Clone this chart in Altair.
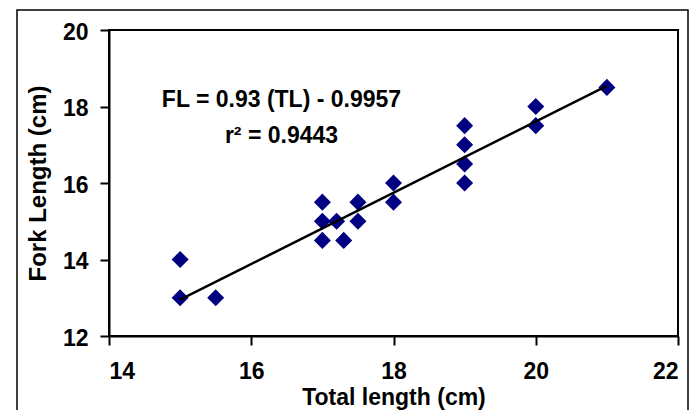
import altair as alt
import pandas as pd

# Data
total_length = [15, 15, 15.5, 17, 17, 17, 17.2, 17.3, 17.5, 17.5, 18, 18, 19, 19, 19, 19, 20, 20, 21]
fork_length = [14, 13, 13, 15.5, 15, 14.5, 15, 14.5, 15.5, 15, 16, 15.5, 17.5, 17, 16.5, 16, 18, 17.5, 18.5]

fit_x = [15, 21]
fit_y = [12.95, 18.54]

ann_text = ["FL = 0.93 (TL) - 0.9957", "r\u00b2 = 0.9443"]
ann_x = [16.425, 16.425]
ann_y = [18.0, 17.04]

x_ticks = [14, 16, 18, 20, 22]
y_ticks = [12, 14, 16, 18, 20]

pts = pd.DataFrame({"TL": total_length, "FL": fork_length})
fit = pd.DataFrame({"TL": fit_x, "FL": fit_y})
ann = pd.DataFrame({"TL": ann_x, "FL": ann_y, "t": ann_text})

FONT = "Liberation Sans"

xs = alt.Scale(domain=[14, 22], nice=False, zero=False)
ys = alt.Scale(domain=[12, 20], nice=False, zero=False)

x_axis = alt.Axis(
    values=x_ticks, format="d", title="Total length (cm)", grid=False,
    tickSize=9, labelPadding=15,
    titleBaseline="alphabetic", titleY=68, titleFontSize=23,
)
y_axis = alt.Axis(
    values=y_ticks, format="d", title="Fork Length (cm)", grid=False,
    tickSize=9, labelPadding=12, labelOffset=2,
    titleBaseline="alphabetic", titleX=-64, titleY=153, titleAlign="center",
    titleFontSize=24,
)

frame = alt.Chart(pd.DataFrame({"a": [0]})).mark_rect(
    fillOpacity=0, stroke="black", strokeWidth=1.5
).encode(
    x=alt.value(-92), x2=alt.value(579), y=alt.value(-20), y2=alt.value(420)
)

points = alt.Chart(pts).mark_point(
    shape="diamond", filled=True, size=290, color="#000080", opacity=1
).encode(
    x=alt.X("TL:Q", scale=xs, axis=x_axis),
    y=alt.Y("FL:Q", scale=ys, axis=y_axis),
)

line = alt.Chart(fit).mark_line(color="black", strokeWidth=2.5).encode(
    x=alt.X("TL:Q", scale=xs),
    y=alt.Y("FL:Q", scale=ys),
)

text = alt.Chart(ann).mark_text(
    font=FONT, fontSize=23, fontWeight="bold", color="black",
    align="center", baseline="alphabetic"
).encode(
    x=alt.X("TL:Q", scale=xs),
    y=alt.Y("FL:Q", scale=ys),
    text="t:N",
)

chart = alt.layer(frame, points, line, text).properties(
    width=569, height=306,
    autosize=alt.AutoSizeParams(type="none"),
    padding={"left": 101, "top": 22, "right": 12, "bottom": 74},
    background="white",
).configure_view(
    stroke="black", strokeWidth=2
).configure_axis(
    domainColor="black", domainWidth=2, tickColor="black", tickWidth=2,
    labelFont=FONT, labelFontSize=23, labelFontWeight="bold", labelColor="black",
    titleFont=FONT, titleFontWeight="bold", titleColor="black",
)

chart.save("out.html", embed_options={"renderer": "svg", "actions": False})
